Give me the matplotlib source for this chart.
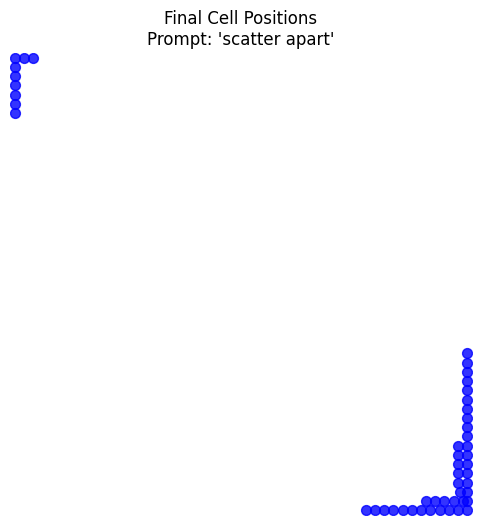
import matplotlib
matplotlib.use("Agg")
import matplotlib.pyplot as plt

# Final cell positions (world is 100 x 100, cell radius 1)
corner_x = [1, 3, 5, 1, 1, 1, 1, 1, 1]
corner_y = [99, 99, 99, 97, 95, 93, 91, 89, 87]

wall_x = [99] * 18
wall_y = list(range(1, 36, 2))

floor_x = list(range(77, 98, 2))
floor_y = [1] * 11

row2_x = [90, 92, 94, 96, 98]
row2_y = [3, 3, 3, 3, 3]

col2_x = [97, 97, 97, 97, 97, 97.4]
col2_y = [15, 13, 11, 9, 7, 5]

xs = corner_x + wall_x + floor_x + row2_x + col2_x
ys = corner_y + wall_y + floor_y + row2_y + col2_y

fig, ax = plt.subplots(figsize=(6, 6))
ax.scatter(xs, ys, c='blue', s=50, alpha=0.8)
ax.set_xlim(0, 100)
ax.set_ylim(0, 100)
ax.set_aspect('equal')
ax.axis('off')
ax.set_title("Final Cell Positions\nPrompt: 'scatter apart'")

plt.savefig("out.png", dpi=100, bbox_inches='tight')
